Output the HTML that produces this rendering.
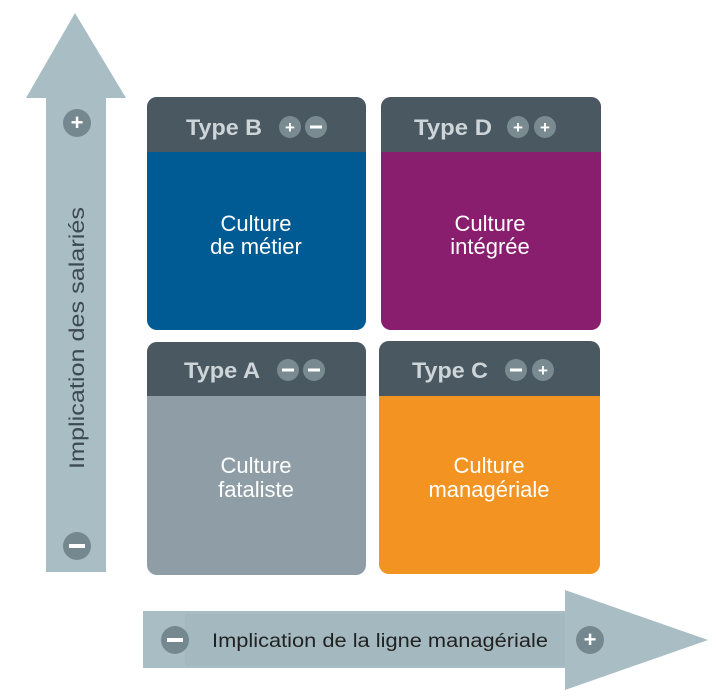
<!DOCTYPE html>
<html><head><meta charset="utf-8"><style>html,body{margin:0;padding:0;background:#fff;}svg{display:block}</style></head>
<body>
<svg width="716" height="700" viewBox="0 0 716 700" xmlns="http://www.w3.org/2000/svg" font-family="Liberation Sans, DejaVu Sans, sans-serif">
<polygon points="75,13 126,98 106,98 106,572 46,572 46,98 26,98" fill="#a8bdc4"/>
<circle cx="77" cy="123" r="14" fill="#75888f"/>
<text x="77" y="130" fill="#fff" font-size="22" text-anchor="middle" font-weight="bold">+</text>
<circle cx="77" cy="546" r="14" fill="#75888f"/>
<rect x="69" y="544" width="16" height="4" fill="#fff"/>
<text transform="translate(84,338) rotate(-90)" fill="#3d4a52" font-size="21" text-anchor="middle" textLength="262" lengthAdjust="spacingAndGlyphs">Implication des salariés</text>
<polygon points="143,611 565,611 565,590 708,640 565,690 565,668 143,668" fill="#a8bdc4"/>
<rect x="185" y="614" width="380" height="52" fill="#9fb4bb" opacity="0.5"/>
<circle cx="175" cy="640" r="14" fill="#75888f"/>
<rect x="167" y="638" width="16" height="4" fill="#fff"/>
<circle cx="590" cy="640" r="14" fill="#75888f"/>
<text x="590" y="647" fill="#fff" font-size="22" text-anchor="middle" font-weight="bold">+</text>
<text x="212" y="647" fill="#222" font-size="19" textLength="336" lengthAdjust="spacingAndGlyphs">Implication de la ligne managériale</text>
<g>
<rect x="147" y="97" width="219" height="233" rx="10" fill="#005b94"/>
<path d="M147,152 V107 a10,10 0 0 1 10,-10 H356 a10,10 0 0 1 10,10 V152 Z" fill="#4a5861"/>
<text x="186" y="135" fill="#cdd5d9" font-size="22" font-weight="bold" textLength="76" lengthAdjust="spacingAndGlyphs">Type B</text>
<circle cx="290" cy="127" r="11" fill="#7a8a91"/><text x="290" y="133" fill="#fff" font-size="17" text-anchor="middle" font-weight="bold">+</text>
<circle cx="316" cy="127" r="11" fill="#7a8a91"/><rect x="310" y="125.5" width="12" height="3" fill="#fff"/>
<text x="256" y="231" fill="#fff" font-size="22" text-anchor="middle">Culture</text>
<text x="256" y="254" fill="#fff" font-size="22" text-anchor="middle">de métier</text>
</g>
<g>
<rect x="381" y="97" width="220" height="233" rx="10" fill="#8a1e6e"/>
<path d="M381,152 V107 a10,10 0 0 1 10,-10 H591 a10,10 0 0 1 10,10 V152 Z" fill="#4a5861"/>
<text x="414" y="135" fill="#cdd5d9" font-size="22" font-weight="bold" textLength="78" lengthAdjust="spacingAndGlyphs">Type D</text>
<circle cx="518" cy="127" r="11" fill="#7a8a91"/><text x="518" y="133" fill="#fff" font-size="17" text-anchor="middle" font-weight="bold">+</text>
<circle cx="545" cy="127" r="11" fill="#7a8a91"/><text x="545" y="133" fill="#fff" font-size="17" text-anchor="middle" font-weight="bold">+</text>
<text x="490" y="231" fill="#fff" font-size="22" text-anchor="middle">Culture</text>
<text x="490" y="254" fill="#fff" font-size="22" text-anchor="middle">intégrée</text>
</g>
<g>
<rect x="147" y="342" width="219" height="233" rx="10" fill="#8f9ea6"/>
<path d="M147,396 V352 a10,10 0 0 1 10,-10 H356 a10,10 0 0 1 10,10 V396 Z" fill="#4a5861"/>
<text x="184" y="378" fill="#cdd5d9" font-size="22" font-weight="bold" textLength="76" lengthAdjust="spacingAndGlyphs">Type A</text>
<circle cx="288" cy="370" r="11" fill="#7a8a91"/><rect x="282" y="368.5" width="12" height="3" fill="#fff"/>
<circle cx="314" cy="370" r="11" fill="#7a8a91"/><rect x="308" y="368.5" width="12" height="3" fill="#fff"/>
<text x="256" y="473" fill="#fff" font-size="22" text-anchor="middle">Culture</text>
<text x="256" y="497" fill="#fff" font-size="22" text-anchor="middle">fataliste</text>
</g>
<g>
<rect x="379" y="341" width="221" height="233" rx="10" fill="#f39321"/>
<path d="M379,396 V351 a10,10 0 0 1 10,-10 H590 a10,10 0 0 1 10,10 V396 Z" fill="#4a5861"/>
<text x="412" y="378" fill="#cdd5d9" font-size="22" font-weight="bold" textLength="76" lengthAdjust="spacingAndGlyphs">Type C</text>
<circle cx="516" cy="370" r="11" fill="#7a8a91"/><rect x="510" y="368.5" width="12" height="3" fill="#fff"/>
<circle cx="543" cy="370" r="11" fill="#7a8a91"/><text x="543" y="376" fill="#fff" font-size="17" text-anchor="middle" font-weight="bold">+</text>
<text x="489" y="473" fill="#fff" font-size="22" text-anchor="middle">Culture</text>
<text x="489" y="497" fill="#fff" font-size="22" text-anchor="middle">managériale</text>
</g>
</svg>
</body></html>
